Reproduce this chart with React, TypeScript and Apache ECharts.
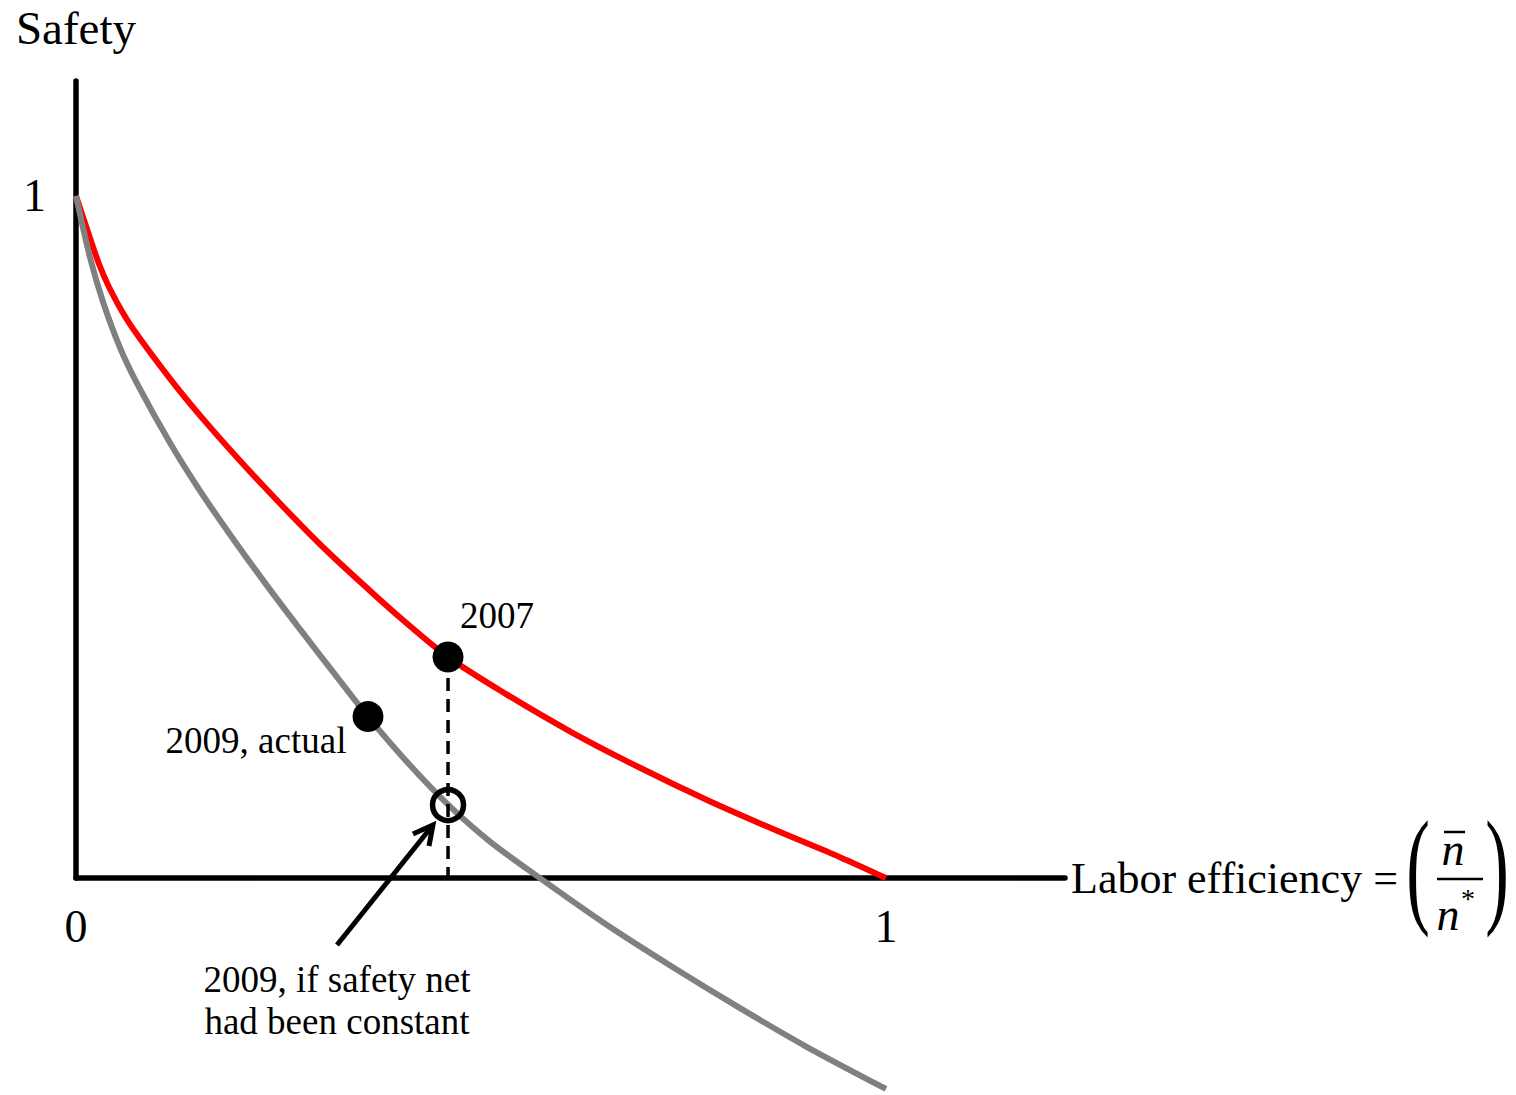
import React, { useEffect, useRef } from "react";
import * as echarts from "echarts";

const FONT = "'Liberation Serif', 'Times New Roman', serif";

// x = labor efficiency, y = safety
const xTickLabels = [0, 1];
const yTickLabels = [1];

const curve2007: [number, number][] = [
  [0, 1], [0.0148, 0.9472], [0.0284, 0.9003], [0.0407, 0.8666], [0.0617, 0.8211],
  [0.0827, 0.7849], [0.1235, 0.721], [0.1642, 0.6629], [0.2062, 0.607], [0.2469, 0.5553],
  [0.2877, 0.5054], [0.3173, 0.471], [0.3593, 0.4251], [0.4, 0.382], [0.4593, 0.324],
  [0.5321, 0.2688], [0.6136, 0.2126], [0.6963, 0.1616], [0.779, 0.1144], [0.8605, 0.0718],
  [0.9432, 0.0306], [1.0, 0],
];

const curve2009: [number, number][] = [
  [0, 1], [0.0173, 0.9097], [0.0333, 0.8449], [0.0543, 0.7776], [0.0753, 0.7252],
  [0.116, 0.6381], [0.1531, 0.5677], [0.1938, 0.4975], [0.2358, 0.4287], [0.2765, 0.3648],
  [0.3173, 0.3023], [0.3605, 0.2367], [0.4099, 0.1686], [0.4593, 0.1076], [0.5111, 0.0534],
  [0.5728, -0.0001], [0.6556, -0.0689], [0.737, -0.1308], [0.8198, -0.1908], [0.9025, -0.2478],
  [1.0, -0.3092],
];

const point2007: [number, number] = [0.4593, 0.324];
const point2009Actual: [number, number] = [0.3605, 0.2367];
const point2009Constant: [number, number] = [0.4593, 0.107];
const dropLine: [number, number][] = [[0.4593, 0.324], [0.4593, 0]];
const arrowShaft: [number, number][] = [[0.3222, -0.0982], [0.4407, 0.0777]];
const arrowHead: [number, number][] = [[0.416, 0.0645], [0.4407, 0.0777], [0.4358, 0.0469]];

const label2007 = "2007";
const label2009Actual = "2009, actual";
const label2009Constant = "2009, if safety net\nhad been constant";

export default function App() {
  const ref = useRef<HTMLDivElement>(null);

  useEffect(() => {
    if (!ref.current) return;
    const chart = echarts.init(ref.current, null, { renderer: "svg" });
    const textBase = { color: "#000", fontFamily: FONT };
    const option: any = {
      animation: false,
      backgroundColor: "#fff",
      grid: { left: 76, right: 451, top: 81, bottom: 217, containLabel: false },
      xAxis: {
        type: "value",
        min: 0,
        max: 1.221,
        interval: 1,
        name: "Labor efficiency =",
        nameLocation: "end",
        nameGap: 6,
        nameTextStyle: {
          ...textBase,
          fontSize: 44,
          align: "left",
          verticalAlign: "middle",
          padding: [0, 0, 6, 0],
        },
        axisLine: { show: true, onZero: true, lineStyle: { color: "#000", width: 5.5 } },
        axisTick: { show: false },
        splitLine: { show: false },
        axisLabel: {
          ...textBase,
          fontSize: 46,
          margin: 25,
          showMaxLabel: false,
          formatter: (v: number) => (xTickLabels.includes(v) ? String(v) : ""),
        },
      },
      yAxis: {
        type: "value",
        min: 0,
        max: 1.1686,
        interval: 1,
        name: "Safety",
        nameLocation: "end",
        nameGap: 30,
        nameTextStyle: { ...textBase, fontSize: 47 },
        axisLine: { show: true, onZero: true, lineStyle: { color: "#000", width: 5.5 } },
        axisTick: { show: false },
        splitLine: { show: false },
        axisLabel: {
          ...textBase,
          fontSize: 46,
          margin: 30,
          formatter: (v: number) => (yTickLabels.includes(v) ? String(v) : ""),
        },
      },
      series: [
        {
          name: "2007 frontier",
          type: "line",
          data: curve2007,
          smooth: 0.3,
          symbol: "none",
          clip: false,
          lineStyle: { color: "#ff0000", width: 6 },
          z: 2,
        },
        {
          name: "2009 frontier",
          type: "line",
          data: curve2009,
          smooth: 0.3,
          symbol: "none",
          clip: false,
          lineStyle: { color: "#808080", width: 6 },
          z: 3,
        },
        {
          name: "drop line",
          type: "line",
          data: dropLine,
          symbol: "none",
          clip: false,
          lineStyle: { color: "#000", width: 3.5, type: [13, 8] },
          z: 4,
        },
        {
          name: "arrow shaft",
          type: "line",
          data: arrowShaft,
          symbol: "none",
          clip: false,
          lineStyle: { color: "#000", width: 5 },
          z: 4,
        },
        {
          name: "arrow head",
          type: "line",
          data: arrowHead,
          symbol: "none",
          clip: false,
          lineStyle: { color: "#000", width: 5, join: "miter" },
          z: 4,
        },
        {
          name: "points",
          type: "scatter",
          clip: false,
          z: 5,
          itemStyle: { opacity: 1 },
          data: [
            {
              value: point2007,
              symbolSize: 31,
              itemStyle: { color: "#000", opacity: 1 },
              label: {
                show: true,
                formatter: label2007,
                position: "inside",
                offset: [49, -42],
                fontSize: 37,
                ...textBase,
              },
            },
            {
              value: point2009Actual,
              symbolSize: 31,
              itemStyle: { color: "#000", opacity: 1 },
              label: {
                show: true,
                formatter: label2009Actual,
                position: "inside",
                offset: [-112, 24],
                fontSize: 37,
                ...textBase,
              },
            },
            {
              value: point2009Constant,
              symbolSize: 31,
              itemStyle: { color: "rgba(0,0,0,0)", borderColor: "#000", borderWidth: 5.5, opacity: 1 },
            },
            {
              value: arrowShaft[0],
              symbolSize: 1,
              itemStyle: { color: "rgba(0,0,0,0)", opacity: 1 },
              label: {
                show: true,
                formatter: label2009Constant,
                position: "inside",
                offset: [0, 56],
                fontSize: 37,
                lineHeight: 42,
                align: "center",
                ...textBase,
              },
            },
          ],
        },
      ],
      graphic: [
        {
          type: "text",
          x: 1418,
          y: 867,
          scaleX: 0.55,
          style: { text: "(", fontSize: 129, fontFamily: FONT, fill: "#000", align: "center", verticalAlign: "middle" },
        },
        {
          type: "text",
          x: 1497,
          y: 867,
          scaleX: 0.55,
          style: { text: ")", fontSize: 129, fontFamily: FONT, fill: "#000", align: "center", verticalAlign: "middle" },
        },
        {
          type: "text",
          x: 1453,
          y: 849,
          style: { text: "n", fontSize: 46, fontStyle: "italic", fontFamily: FONT, fill: "#000", align: "center", verticalAlign: "middle" },
        },
        {
          type: "line",
          shape: { x1: 1444, y1: 832, x2: 1465, y2: 832 },
          style: { stroke: "#000", lineWidth: 2.5 },
        },
        {
          type: "line",
          shape: { x1: 1437, y1: 879, x2: 1483, y2: 879 },
          style: { stroke: "#000", lineWidth: 2.5 },
        },
        {
          type: "text",
          x: 1448,
          y: 914,
          style: { text: "n", fontSize: 46, fontStyle: "italic", fontFamily: FONT, fill: "#000", align: "center", verticalAlign: "middle" },
        },
        {
          type: "text",
          x: 1468,
          y: 898,
          style: { text: "*", fontSize: 28, fontFamily: FONT, fill: "#000", align: "center", verticalAlign: "middle" },
        },
      ],
    };
    chart.setOption(option);
    return () => chart.dispose();
  }, []);

  return (
    <div
      ref={ref}
      style={{ position: "fixed", left: 0, top: 0, width: 1516, height: 1095, background: "#fff" }}
    />
  );
}
